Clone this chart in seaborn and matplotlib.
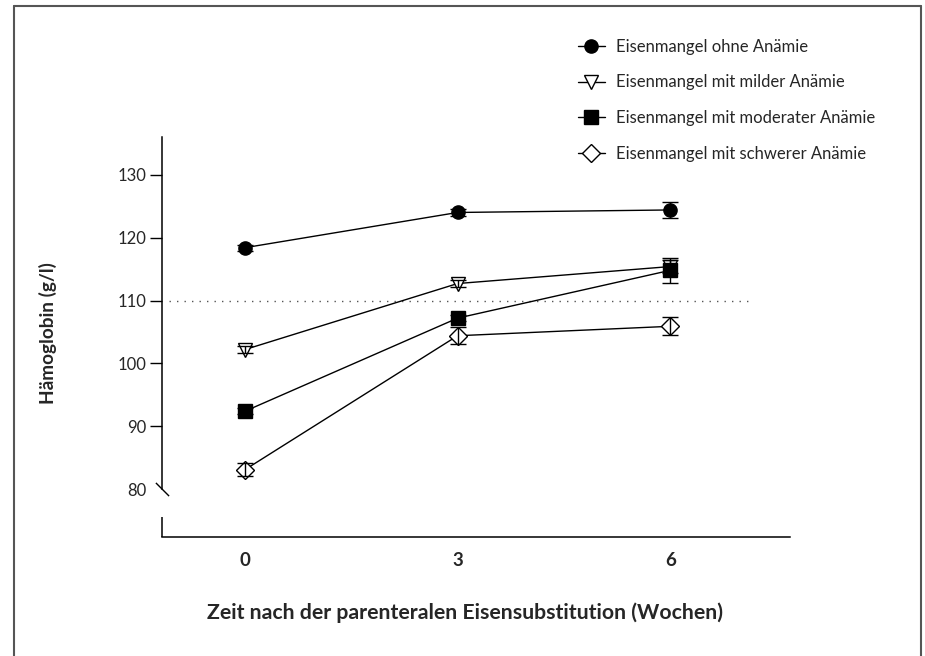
import numpy as np
import pandas as pd
import matplotlib
matplotlib.use("Agg")
import matplotlib.pyplot as plt
from matplotlib.lines import Line2D
import seaborn as sns

weeks = [0, 3, 6]
groups = ["Eisenmangel ohne Anämie",
          "Eisenmangel mit milder Anämie",
          "Eisenmangel mit moderater Anämie",
          "Eisenmangel mit schwerer Anämie"]
hb_ohne = [118.4, 124.0, 124.4]
hb_mild = [102.2, 112.7, 115.4]
hb_moderat = [92.4, 107.2, 114.8]
hb_schwer = [83.1, 104.4, 105.9]
err_ohne = [0.5, 0.5, 1.2]
err_mild = [0.5, 0.6, 1.1]
err_moderat = [0.5, 0.5, 2.0]
err_schwer = [1.05, 1.35, 1.45]
threshold = 110
yticks = [80, 90, 100, 110, 120, 130]

sns.set_theme(style="ticks")
plt.rcParams["font.family"] = ["Lato", "DejaVu Sans"]

fig = plt.figure(figsize=(9.25, 6.56), dpi=100)
ax = fig.add_axes([162/925, 1-537/656, (790-162)/925, (537-137)/656])

series = [
    (groups[0], hb_ohne, err_ohne, "o", "black", 9.5),
    (groups[1], hb_mild, err_mild, "v", "white", 10.5),
    (groups[2], hb_moderat, err_moderat, "s", "black", 9.5),
    (groups[3], hb_schwer, err_schwer, "D", "white", 9.0),
]

handles = []
for name, vals, errs, mk, fc, ms in series:
    df = pd.DataFrame({"Woche": weeks, "Hb": vals})
    sns.lineplot(data=df, x="Woche", y="Hb", ax=ax, color="black", lw=1.0,
                 marker=mk, markersize=ms, markerfacecolor=fc,
                 markeredgecolor="black", markeredgewidth=1.0, label=name,
                 legend=False, zorder=2)
    ax.errorbar(weeks, vals, yerr=errs, fmt="none", ecolor="black",
                elinewidth=1.0, capsize=6, capthick=1.0, zorder=3)
    handles.append(Line2D([], [], color="black", lw=1.0, marker=mk, markersize=ms,
                          markerfacecolor=fc, markeredgecolor="black",
                          markeredgewidth=1.0))

xmin, xmax = -1.17, 7.69
ymin, ymax = 72.4, 136.0
ax.set_xlim(xmin, xmax)
ax.set_ylim(ymin, ymax)

ax.plot([xmin + 0.1, 7.13], [threshold, threshold], color="#555555", lw=1.0,
        linestyle=(0, (1, 4.4)), zorder=1)

ax.set_xticks(weeks)
ax.set_xticklabels([str(w) for w in weeks], fontweight="bold", fontsize=13.5)
ax.set_yticks(yticks)
ax.set_yticklabels([str(t) for t in yticks], fontsize=12)
ax.tick_params(axis="x", length=0, pad=11)
ax.tick_params(axis="y", length=8.5, width=1.0, pad=3, color="black")
ax.yaxis.get_major_ticks()[0].tick1line.set_visible(False)

for s in ["top", "right"]:
    ax.spines[s].set_visible(False)
for s in ["left", "bottom"]:
    ax.spines[s].set_color("black")
    ax.spines[s].set_linewidth(1.1)
ax.spines["left"].set_bounds(80, ymax)
ax.plot([xmin, xmin], [ymin, 75.6], color="black", lw=1.1, clip_on=False,
        solid_capstyle="butt")
ax.plot([xmin], [80], marker=[(-1, 1), (1, -1)], markersize=9.5,
        color="black", mew=1.0, clip_on=False)

ax.set_xlabel("Zeit nach der parenteralen Eisensubstitution (Wochen)",
              fontsize=15.3, fontweight="bold", labelpad=24)
ax.xaxis.label.set_x(0.482)
ax.set_ylabel("Hämoglobin (g/l)", fontsize=13.7, fontweight="bold", labelpad=43)
ax.yaxis.label.set_y(0.511)

leg = ax.legend(handles, groups, loc="upper left",
                bbox_to_anchor=(578/925, 1-39/656), bbox_transform=fig.transFigure,
                frameon=False, fontsize=12, handlelength=1.6, handletextpad=0.65,
                labelspacing=1.17, borderpad=0, borderaxespad=0)

for seg in ([(13.5, 13.5), (656, 5.5)], [(13.5, 920.5), (5.5, 5.5)],
            [(920.5, 920.5), (5.5, 656)]):
    fig.add_artist(Line2D([x/925 for x in seg[0]], [1-y/656 for y in seg[1]],
                          color="#555555", lw=1.5, transform=fig.transFigure))

fig.savefig("out.png", dpi=100)
